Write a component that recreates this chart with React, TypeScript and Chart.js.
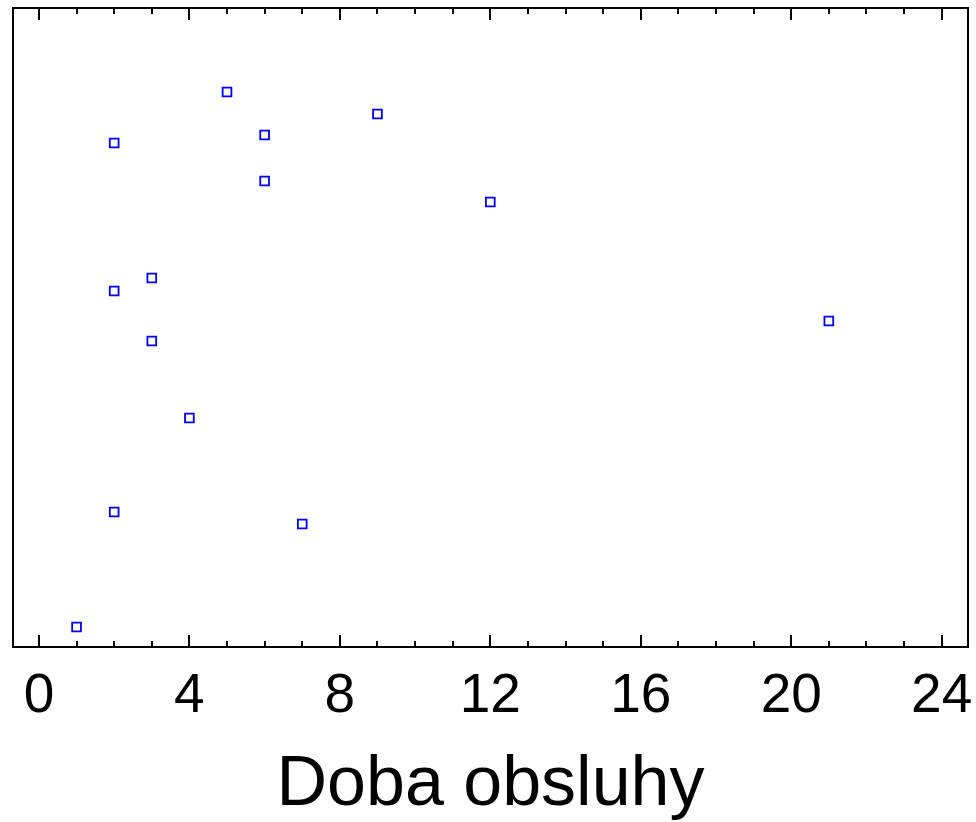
import React, { useEffect, useRef } from "react";
import { Chart, registerables } from "chart.js";

Chart.register(...registerables);

const serviceTime = [5, 9, 6, 2, 6, 12, 3, 2, 21, 3, 4, 2, 7, 1];
const jitter = [86.85, 83.41, 80.13, 78.87, 72.93, 69.64, 57.75, 55.71, 51.02, 47.89, 35.84, 21.13, 19.25, 3.13];
const majorTicks = [0, 4, 8, 12, 16, 20, 24];
const minorTicks = [1, 2, 3, 5, 6, 7, 9, 10, 11, 13, 14, 15, 17, 18, 19, 21, 22, 23];
const axisTitle = "Doba obsluhy";

const framePlugin = {
  id: "frameTicks",
  beforeDatasetsDraw(chart: any) {
    const { ctx, chartArea } = chart;
    const x = chart.scales.x;
    const { left, right, top, bottom } = chartArea;
    ctx.save();
    ctx.strokeStyle = "#000";
    ctx.lineWidth = 2;
    ctx.beginPath();
    ctx.rect(left, top, right - left, bottom - top);
    ctx.stroke();
    ctx.lineWidth = 2;
    ctx.beginPath();
    const drawTick = (v: number, len: number) => {
      const px = Math.round(x.getPixelForValue(v));
      ctx.moveTo(px, bottom);
      ctx.lineTo(px, bottom - len);
      ctx.moveTo(px, top);
      ctx.lineTo(px, top + len);
    };
    majorTicks.forEach((v) => drawTick(v, 12));
    minorTicks.forEach((v) => drawTick(v, 6));
    ctx.stroke();
    ctx.restore();
  },
};

export default function App() {
  const ref = useRef<HTMLCanvasElement>(null);
  useEffect(() => {
    document.body.style.margin = "0";
    const chart = new Chart(ref.current!, {
      type: "scatter",
      data: {
        datasets: [
          {
            data: serviceTime.map((v, i) => ({ x: v, y: jitter[i] })),
            pointStyle: "rect",
            radius: 6.2,
            hoverRadius: 6.2,
            borderWidth: 1.8,
            borderColor: "#0000ff",
            backgroundColor: "#ffffff",
          },
        ],
      },
      options: {
        animation: false,
        responsive: true,
        maintainAspectRatio: false,
        layout: { padding: { left: 13, right: 6, top: 8, bottom: 0 } },
        plugins: { legend: { display: false }, tooltip: { enabled: false } },
        scales: {
          x: {
            type: "linear",
            min: -0.69,
            max: 24.7,
            grid: { display: false },
            border: { display: false },
            afterBuildTicks: (s: any) => {
              s.ticks = majorTicks.map((v) => ({ value: v }));
            },
            afterFit: (s: any) => {
              s.height = 175;
              s.paddingLeft = 0;
              s.paddingRight = 0;
            },
            ticks: {
              color: "#000",
              padding: 9,
              maxRotation: 0,
              autoSkip: false,
              font: { family: "'Liberation Sans', Arial, sans-serif", size: 55 },
            },
            title: {
              display: true,
              text: axisTitle,
              color: "#000",
              padding: { top: 0, bottom: -6 },
              font: { family: "'Liberation Sans', Arial, sans-serif", size: 70 },
            },
          },
          y: {
            display: false,
            min: 0,
            max: 100,
          },
        },
      },
      plugins: [framePlugin],
    });
    return () => chart.destroy();
  }, []);
  return (
    <div style={{ position: "absolute", left: 0, top: 0, width: 976, height: 822 }}>
      <canvas ref={ref} />
    </div>
  );
}
